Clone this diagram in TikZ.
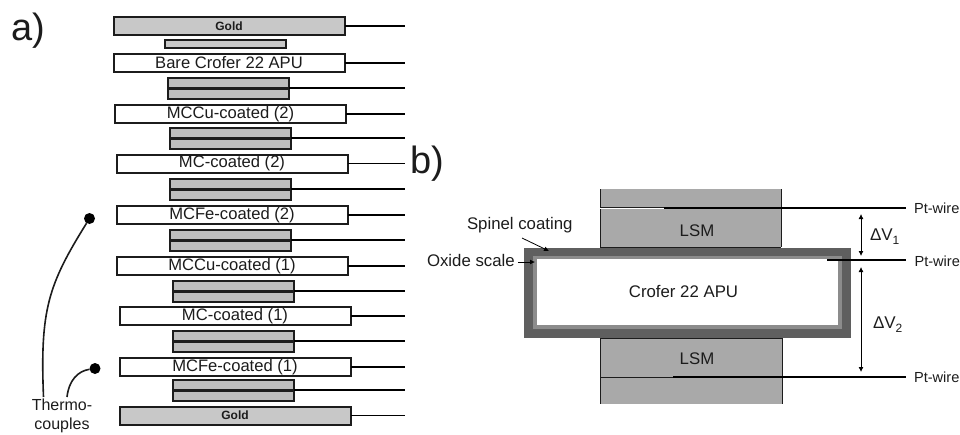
\documentclass[tikz,border=0pt]{standalone}
\usepackage{fontspec}
\setmainfont{Liberation Sans}
\usetikzlibrary{arrows.meta}
\definecolor{ink}{HTML}{1C1C1C}
\definecolor{goldfill}{HTML}{C8C8C8}
\definecolor{pairfill}{HTML}{BDBDBD}
\definecolor{lsmfill}{HTML}{A9A9A9}
\definecolor{spinelfill}{HTML}{5F5F5F}
\definecolor{oxidefill}{HTML}{8C8C8C}
\newcommand{\fs}[1]{\fontsize{#1}{#1}\selectfont}
\tikzset{
  x=1pt,y=-1pt,
  every node/.style={inner sep=0pt,outer sep=0pt,text=ink},
  layer/.style={draw=ink,line width=2pt,minimum width=231pt,minimum height=18pt,anchor=center},
  coupon/.style={layer,fill=white,font=\fs{16.6}},
  goldbox/.style={layer,fill=goldfill,font=\fs{12}\bfseries},
  pairbox/.style={draw=ink,line width=2pt,fill=pairfill,minimum width=121pt,minimum height=21pt},
  wire/.style={draw=black,line width=1.5pt},
  midline/.style={draw=ink,line width=3pt},
  tclead/.style={draw=ink,line width=1.6pt},
  tcdot/.style={circle,fill=black,minimum size=11pt},
  lsm/.style={fill=lsmfill,draw=none,anchor=north west},
  edge line/.style={draw=ink,line width=1pt},
  ptwire/.style={draw=black,line width=1.6pt},
  label/.style={font=\fs{16.8}},
  wirelabel/.style={font=\fs{14.6}},
  tag/.style={font=\fs{38}},
  dim/.style={draw=black,line width=.8pt,{Latex[length=5pt,width=5pt]}-{Latex[length=5pt,width=5pt]}},
  pointer/.style={draw=black,line width=.8pt,-{Latex[length=5pt,width=5pt]}}
}
\begin{document}
\begin{tikzpicture}
\useasboundingbox (0,0) rectangle (960,434);
\node[tag] (taga) at (28,31) {a)};
\node[tag] (tagb) at (427,164) {b)};
\coordinate (wa) at (405,0);
% stack
\node[goldbox] (g2) at (229,26) {Gold};
\node[pairbox,minimum height=8pt,fill=goldfill] (s0) at (225,44) {};
\foreach \n/\x/\y/\t in {c1/229/63/Bare Crofer 22 APU,c2/230.5/114/MCCu-coated (2),c3/232/163.5/MC-coated (2),c4/232/215/MCFe-coated (2),c5/232/266/MCCu-coated (1),c6/235/316/MC-coated (1),c7/235/367/MCFe-coated (1)}
  {\node[coupon] (\n) at (\x,\y) {\raisebox{-1pt}{\t}};
   \draw[wire] (\n.east) -- (\n.east -| wa);}
\foreach \n/\x/\y in {p1/228/88,p2/230/138,p3/230/189,p4/230/240,p5/233/291,p6/233/341,p7/233/390}
  {\node[pairbox] (\n) at (\x,\y) {};
   \draw[midline] (\n.west) -- (\n.east);
   \draw[wire] (\n.east) -- (\n.east -| wa);}
\node[goldbox] (g1) at (235,415.5) {Gold};
\draw[wire] (g2.east) -- (g2.east -| wa);
\draw[wire] (g1.east) -- (g1.east -| wa);
% thermocouples
\node[font=\fs{16},align=center] (tc) at (62,416) {Thermo-\\[3pt]couples};
\node[tcdot] (d1) at (89.5,218.5) {};
\node[tcdot] (d2) at (95,368.5) {};
\coordinate (t1) at (43.5,397);
\coordinate (t2) at (67,397);
\draw[tclead] (t1) .. controls (40,310) and (48,285) .. (d1);
\draw[tclead] (t2) .. controls (69,380) and (78,371) .. (d2);
% part b
\node[lsm,minimum width=181pt,minimum height=18pt] (l1) at (600,189) {};
\node[lsm,minimum width=181pt,minimum height=38pt] (l2) at (600,209) {};
\node[lsm,minimum width=182pt,minimum height=39pt] (l3) at (600,338) {};
\node[lsm,minimum width=182pt,minimum height=26pt] (l4) at (600,378) {};
\foreach \n in {l1,l2,l3,l4}{\draw[edge line] (\n.north west) -- (\n.south west);\draw[edge line] (\n.north east) -- (\n.south east);}
\draw[edge line] (l1.south west) -- (l1.south east);
\draw[edge line] (l2.south west) -- (l2.south east);
\draw[edge line] (l3.north west) -- (l3.north east);
\draw[edge line] (l3.south west) -- (l3.south east);
\node[anchor=north west,fill=spinelfill,minimum width=327pt,minimum height=90pt] (coat) at (524,248) {};
\node[anchor=north west,fill=oxidefill,minimum width=309pt,minimum height=73pt] (oxide) at (533,256) {};
\node[anchor=north west,fill=white,minimum width=301pt,minimum height=66pt] (crofer) at (537,259) {};
\node[label] (cl) at (683.5,291) {Crofer 22 APU};
\node[label] (u) at (697,231) {LSM};
\node[label] (v) at (697,359) {LSM};
\node[wirelabel,anchor=west] (pw1) at (914,208) {Pt-wire};
\node[wirelabel,anchor=west] (pw2) at (914.5,261) {Pt-wire};
\node[wirelabel,anchor=west] (pw3) at (914,377) {Pt-wire};
\coordinate (w1) at (664,208);
\coordinate (w2) at (827,260);
\coordinate (w3) at (673,377);
\coordinate (we) at (906,0);
\draw[ptwire] (w1) -- (w1 -| we);
\draw[ptwire] (w2) -- (w2 -| we);
\draw[ptwire] (w3) -- (w3 -| we);
\coordinate (a1) at (861,214);
\coordinate (a2) at (861,256);
\coordinate (a3) at (861,267);
\coordinate (a4) at (861,372);
\draw[dim] (a1) -- (a2);
\draw[dim] (a3) -- (a4);
\node[font=\fs{17},anchor=west] (v1) at (870,237) {ΔV\raisebox{-4pt}{\fs{12}1}};
\node[font=\fs{17},anchor=west] (v2) at (873,325) {ΔV\raisebox{-4pt}{\fs{12}2}};
\node[label,anchor=west] (spin) at (467,225) {Spinel coating};
\node[label,anchor=west] (ox) at (427,260) {Oxide scale};
\coordinate (sa) at (522,238);
\coordinate (sb) at (549,251);
\coordinate (ob) at (535,262);
\draw[pointer] (sa) -- (sb);
\draw[pointer] (ox.east |- ob) ++(3,0) -- (ob);
\end{tikzpicture}
\end{document}
